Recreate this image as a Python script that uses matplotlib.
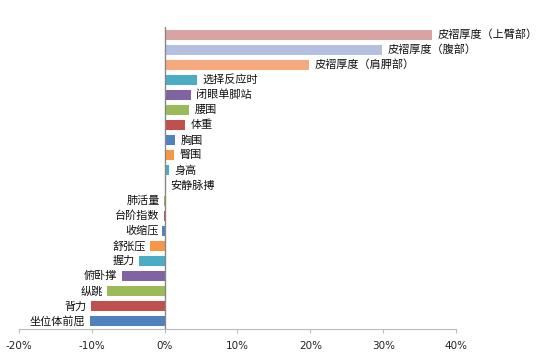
import matplotlib
matplotlib.use("Agg")
import matplotlib.pyplot as plt
from matplotlib.ticker import FuncFormatter

plt.rcParams['font.family'] = ['Noto Sans CJK SC', 'DejaVu Sans']

categories = ['皮褶厚度（上臂部）', '皮褶厚度（腹部）', '皮褶厚度（肩胛部）', '选择反应时', '闭眼单脚站',
              '腰围', '体重', '胸围', '臀围', '身高', '安静脉搏', '肺活量', '台阶指数', '收缩压',
              '舒张压', '握力', '俯卧撑', '纵跳', '背力', '坐位体前屈']
values = [36.7, 29.9, 19.8, 4.5, 3.6, 3.3, 2.75, 1.4, 1.25, 0.55, 0.05, -0.1, -0.15, -0.3,
          -1.95, -3.5, -5.9, -7.9, -10.1, -10.3]
colors = ['#D9A3A3', '#B4C0E2', '#F5A97C', '#4BACC6', '#8064A2', '#9BBB59', '#C0504D', '#4F81BD',
          '#F79646', '#4BACC6', '#8064A2', '#9BBB59', '#C0504D', '#4F81BD', '#F79646', '#4BACC6',
          '#8064A2', '#9BBB59', '#C0504D', '#4F81BD']
xticks = [-20, -10, 0, 10, 20, 30, 40]

fig = plt.figure(figsize=(5.41, 3.53), dpi=100)
ax = fig.add_axes([0.035, 0.068, 0.808, 0.8555])

n = len(categories)
ypos = list(range(n))
ax.barh(ypos, values, height=0.66, color=colors, edgecolor='none')
ax.set_ylim(n - 0.5, -0.5)
ax.set_xlim(-20, 40)

for y, v, lab in zip(ypos, values, categories):
    if v >= 0:
        ax.annotate(lab, (v, y), xytext=(4, 0), textcoords='offset points',
                    ha='left', va='center', fontsize=8, color='#111111')
    else:
        ax.annotate(lab, (v, y), xytext=(-3, 0), textcoords='offset points',
                    ha='right', va='center', fontsize=8, color='#111111')

ax.set_xticks(xticks)
ax.xaxis.set_major_formatter(FuncFormatter(lambda x, p: f'{int(x)}%'))
ax.set_yticks([])
for s in ['top', 'right', 'left']:
    ax.spines[s].set_visible(False)
ax.spines['bottom'].set_color('#BBBBBB')
ax.spines['bottom'].set_linewidth(0.8)
ax.axvline(0, color='#888888', linewidth=1.0)
ax.tick_params(axis='x', direction='out', length=3, color='#BBBBBB', labelsize=7.5, pad=6,
               labelcolor='#222222')
for t in ax.get_xticklabels():
    t.set_fontfamily('DejaVu Sans')

fig.savefig('out.png', dpi=100)
